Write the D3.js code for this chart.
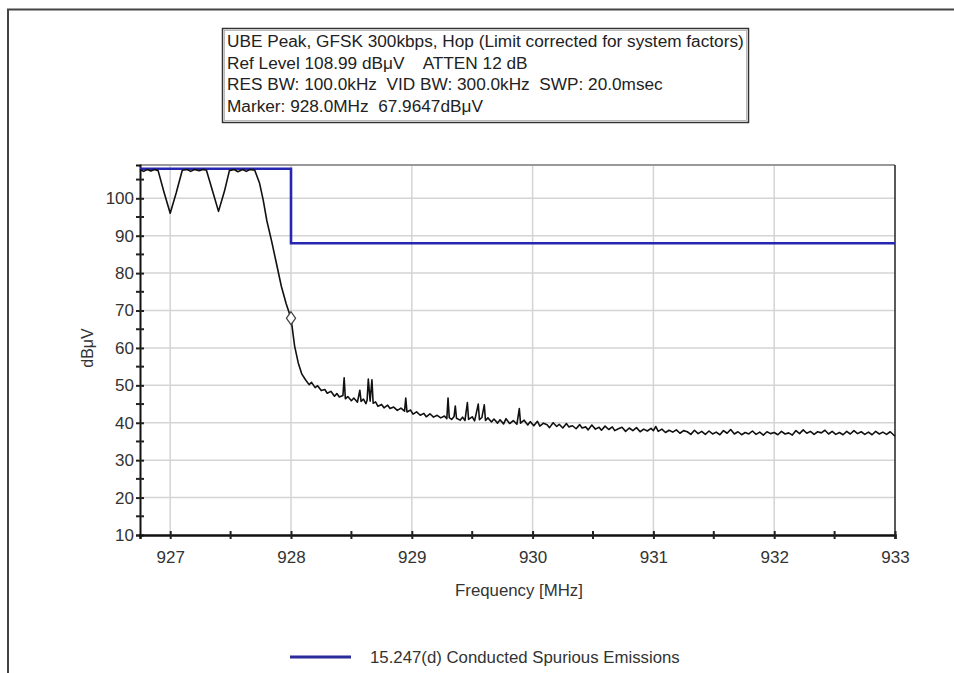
<!DOCTYPE html>
<html><head><meta charset="utf-8">
<script src="https://cdn.jsdelivr.net/npm/d3@7/dist/d3.min.js"></script>
<style>body{margin:0;background:#fff;}svg{display:block;font-family:"Liberation Sans",Arial,sans-serif;} text{white-space:pre;}</style>
</head><body>
<svg id="c" width="954" height="673"></svg>
<script>
const titleLines = [
  "UBE Peak, GFSK 300kbps, Hop (Limit corrected for system factors)",
  "Ref Level 108.99 dB\u03bcV    ATTEN 12 dB",
  "RES BW: 100.0kHz  VID BW: 300.0kHz  SWP: 20.0msec",
  "Marker: 928.0MHz  67.9647dB\u03bcV"
];
const xTicks = [927, 928, 929, 930, 931, 932, 933];
const xMinor = [927.5, 928.5, 929.5, 930.5, 931.5, 932.5];
const yTicks = [10, 20, 30, 40, 50, 60, 70, 80, 90, 100];
const yMinor = [15, 25, 35, 45, 55, 65, 75, 85, 95, 105];
const limitLine = [[926.75, 107.9], [928.0, 107.9], [928.0, 88.0], [933.0, 88.0]];
const marker = [928.0, 67.9647];
const legendLabel = "15.247(d) Conducted Spurious Emissions";
const trace = [
 [926.75,107.6],[926.78,107.2],[926.81,107.7],[926.84,107.3],[926.87,107.7],[926.90,107.4],[926.95,101.5],[927.00,96.0],[927.05,101.5],[927.10,107.5],[927.14,107.7],[927.17,107.2],[927.20,107.7],[927.24,107.4],[927.27,107.7],[927.30,107.5],[927.35,102],[927.40,96.5],[927.45,102],[927.49,107.4],[927.53,107.7],[927.56,107.1],[927.60,107.7],[927.63,107.2],[927.66,107.7],[927.70,107.5],
 [927.74,104],[927.77,99.5],[927.80,94],[927.84,88.5],[927.88,82.5],[927.92,76.5],[927.96,71.8],[928.00,67.96],[928.03,60.5],[928.06,56],[928.09,53],[928.12,51.5],[928.15,50.2],[928.17,50.8],[928.20,49.4],[928.22,49.9],[928.25,48.6],[928.28,48.9],
 [928.30,47.9],[928.33,48.4],[928.36,47.1],[928.38,47.8],[928.40,46.9],[928.43,47.3],[928.44,52.0],[928.45,46.4],[928.47,47.0],[928.50,45.9],[928.52,46.6],[928.55,45.5],[928.57,48.7],[928.58,45.7],[928.60,46.3],[928.62,45.1],[928.63,46.0],[928.64,51.7],[928.655,45.8],[928.67,51.5],[928.68,45.2],
 [928.70,45.6],[928.72,44.4],[928.75,44.9],[928.77,44.0],[928.80,44.7],[928.82,43.8],[928.85,44.2],[928.88,43.3],[928.91,43.9],[928.94,43.1],[928.95,46.6],[928.96,42.9],[928.99,43.4],[929.01,42.3],[929.04,42.9],[929.07,42.0],[929.10,42.5],[929.12,41.6],[929.15,42.4],[929.18,41.5],[929.21,42.0],[929.24,41.3],[929.27,41.8],[929.29,41.1],[929.30,46.6],[929.31,41.4],[929.33,40.9],[929.35,41.7],[929.36,44.5],[929.37,41.2],[929.40,40.7],[929.42,41.5],[929.44,40.6],[929.46,45.4],[929.47,40.9],[929.50,41.6],[929.52,40.5],[929.55,45.0],[929.56,40.8],[929.58,41.4],[929.60,44.8],[929.61,40.6],[929.63,41.3],[929.66,40.2],[929.68,41.0],[929.71,39.9],[929.73,40.8],[929.76,39.7],[929.78,41.1],[929.81,39.8],[929.84,40.6],[929.87,39.6],[929.89,43.8],[929.90,39.9],[929.93,40.7],[929.96,39.4],[929.98,40.3],
 [930.01,39.2],[930.04,40.4],[930.06,39.1],[930.09,39.9],[930.12,39.5],[930.14,38.7],[930.17,40.0],[930.20,39.0],[930.22,39.6],[930.25,38.6],[930.28,39.8],[930.30,38.9],[930.33,39.2],[930.36,38.4],[930.39,39.5],[930.41,38.6],[930.44,38.9],[930.46,38.1],[930.49,39.4],[930.52,38.3],[930.55,38.8],[930.57,38.0],[930.60,39.1],[930.63,38.2],[930.66,38.9],[930.68,37.9],[930.71,38.4],[930.74,38.8],[930.77,37.7],[930.80,38.6],[930.83,37.9],[930.86,38.7],[930.89,37.6],[930.92,38.3],[930.95,37.8],[930.98,38.5],
 [931.00,37.9],[931.02,39.0],[931.04,37.7],[931.07,38.3],[931.10,37.4],[931.13,38.0],[931.16,37.5],[931.19,38.1],[931.22,37.2],[931.25,37.9],[931.28,37.6],[931.31,36.9],[931.34,38.0],[931.37,37.1],[931.40,37.7],[931.43,36.9],[931.46,37.8],[931.49,37.0],[931.52,37.5],[931.55,36.8],[931.58,37.9],[931.61,37.2],[931.64,38.2],[931.67,37.0],[931.70,37.6],[931.73,36.8],[931.76,37.4],[931.79,37.0],[931.82,37.8],[931.85,36.9],[931.88,37.5],[931.91,36.7],[931.94,37.6],[931.97,37.1],
 [932.00,37.4],[932.03,36.8],[932.06,37.7],[932.09,37.0],[932.12,37.3],[932.15,36.7],[932.18,37.9],[932.21,37.1],[932.24,38.1],[932.27,37.2],[932.30,37.7],[932.33,36.9],[932.36,37.6],[932.39,37.3],[932.42,38.0],[932.45,37.0],[932.48,37.7],[932.51,36.9],[932.54,37.4],[932.57,36.8],[932.60,37.7],[932.63,37.0],[932.66,37.9],[932.69,37.1],[932.72,37.6],[932.75,36.9],[932.78,37.5],[932.81,36.8],[932.84,37.7],[932.87,37.0],[932.90,37.5],[932.93,36.9],[932.96,37.6],[932.98,37.0],[933.00,36.4]
];

const svg = d3.select("#c");
const L = 140, R = 895, T = 165, B = 535;
const x = d3.scaleLinear().domain([926.75, 933]).range([L, R]);
const y = d3.scaleLinear().domain([10, 108.9]).range([B, T]);

// outer frame
svg.append("path").attr("d", `M8,673 V9.5 H954`).attr("fill", "none").attr("stroke", "#444").attr("stroke-width", 2);

// title box
const box = svg.append("g");
box.append("rect").attr("x", 222.5).attr("y", 28.5).attr("width", 526).attr("height", 94)
  .attr("fill", "#fff").attr("stroke", "#333").attr("stroke-width", 1.5);
box.append("rect").attr("x", 224.5).attr("y", 30.5).attr("width", 522).attr("height", 90)
  .attr("fill", "none").attr("stroke", "#aaa").attr("stroke-width", 0.8);
const tl = box.selectAll("text.t").data(titleLines).join("text").attr("class", "t")
  .attr("x", 227).attr("y", (d, i) => 47 + i * 21.7).attr("font-size", 14.5)
  .attr("fill", "#222").text(d => d);
const w0 = tl.node().getComputedTextLength();
const fs = 14.5 * 517 / w0;
tl.attr("font-size", fs);

// grid
svg.append("g").selectAll("line").data(yTicks.slice(1)).join("line")
  .attr("x1", L).attr("x2", R).attr("y1", d => y(d)).attr("y2", d => y(d))
  .attr("stroke", "#d4d4d4").attr("stroke-width", 1.5);
svg.append("g").selectAll("line").data(xTicks.slice(0, -1)).join("line")
  .attr("y1", T).attr("y2", B).attr("x1", d => x(d)).attr("x2", d => x(d))
  .attr("stroke", "#d4d4d4").attr("stroke-width", 1.5);

// top border grey, right border dark
svg.append("line").attr("x1", L).attr("x2", R).attr("y1", T).attr("y2", T).attr("stroke", "#999").attr("stroke-width", 2);
svg.append("line").attr("x1", R).attr("x2", R).attr("y1", T).attr("y2", B).attr("stroke", "#222").attr("stroke-width", 1.5);

// axes
const yAxis = d3.axisLeft(y).tickValues(yTicks).tickSize(4).tickPadding(3);
const ga = svg.append("g").attr("transform", `translate(${L},0)`).call(yAxis);
ga.select(".domain").attr("stroke", "#111").attr("stroke-width", 2);
ga.selectAll(".tick line").attr("x2", 4).attr("x1", -4).attr("stroke", "#222").attr("stroke-width", 2);
ga.selectAll(".tick text").attr("font-size", 17).attr("fill", "#333").attr("font-family", "Liberation Sans, Arial").attr("x", -6);
svg.append("g").selectAll("line").data(yMinor).join("line")
  .attr("x1", L - 4).attr("x2", L + 4).attr("y1", d => y(d)).attr("y2", d => y(d)).attr("stroke", "#222").attr("stroke-width", 2);

const xAxis = d3.axisBottom(x).tickValues(xTicks).tickSize(4).tickPadding(12).tickFormat(d3.format("d"));
const gx = svg.append("g").attr("transform", `translate(0,${B})`).call(xAxis);
gx.select(".domain").attr("stroke", "#111").attr("stroke-width", 2.5);
gx.selectAll(".tick line").attr("y1", -4).attr("y2", 4).attr("stroke", "#222").attr("stroke-width", 2);
gx.selectAll(".tick text").attr("font-size", 17).attr("fill", "#333").attr("font-family", "Liberation Sans, Arial");
svg.append("g").selectAll("line").data(xMinor).join("line")
  .attr("y1", B - 4).attr("y2", B + 4).attr("x1", d => x(d)).attr("x2", d => x(d)).attr("stroke", "#222").attr("stroke-width", 2);

// axis titles
svg.append("text").attr("transform", `translate(93,348) rotate(-90)`).attr("text-anchor", "middle")
  .attr("font-size", 16).attr("fill", "#333").text("dB\u03bcV");
svg.append("text").attr("x", 519).attr("y", 596).attr("text-anchor", "middle")
  .attr("font-size", 16.8).attr("fill", "#333").text("Frequency [MHz]");

// limit line
const line = d3.line().x(d => x(d[0])).y(d => y(d[1]));
svg.append("path").datum(limitLine).attr("d", line).attr("fill", "none")
  .attr("stroke", "#2626b0").attr("stroke-width", 2.6);

// trace
svg.append("path").datum(trace).attr("d", line).attr("fill", "none")
  .attr("stroke", "#111").attr("stroke-width", 1.6).attr("stroke-linejoin", "round");

// marker
svg.append("path").attr("d", d3.symbol(d3.symbolDiamond, 60)())
  .attr("transform", `translate(${x(marker[0])},${y(marker[1])}) scale(1.1,0.9)`)
  .attr("fill", "#fff").attr("stroke", "#444").attr("stroke-width", 1.2);

// legend
svg.append("line").attr("x1", 290).attr("x2", 351).attr("y1", 657).attr("y2", 657)
  .attr("stroke", "#2b2b9a").attr("stroke-width", 3);
svg.append("text").attr("x", 370).attr("y", 663).attr("font-size", 16.8).attr("fill", "#333").text(legendLabel);
</script>
</body></html>
